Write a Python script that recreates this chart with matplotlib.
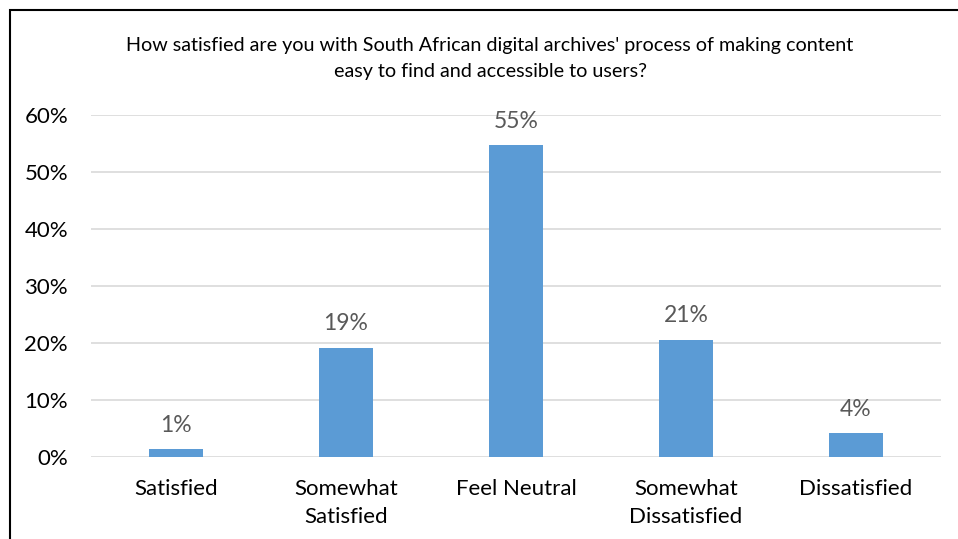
import matplotlib.pyplot as plt
from matplotlib.patches import Rectangle

categories = ['Satisfied', 'Somewhat\nSatisfied', 'Feel Neutral', 'Somewhat\nDissatisfied', 'Dissatisfied']
shares = [1.4, 19.2, 54.8, 20.6, 4.2]
y_ticks = [0, 10, 20, 30, 40, 50, 60]

TITLE = ("How satisfied are you with South African digital archives' process of making content\n"
         "easy to find and accessible to users?")

plt.rcParams['font.family'] = ['Lato', 'DejaVu Sans']

fig = plt.figure(figsize=(9.58, 5.39), dpi=100)
W, H = 958, 539
ax = fig.add_axes([91 / W, 1 - 457 / H, 850 / W, (457 - 115) / H])

x = list(range(len(categories)))
ax.bar(x, shares, width=0.32, color='#5B9BD5', zorder=3)
for xi, v in zip(x, shares):
    ax.text(xi, v + 2.3, '%d%%' % round(v), ha='center', va='bottom',
            fontsize=16.5, color='#595959')

ax.set_xlim(-0.5, len(categories) - 0.5)
ax.set_ylim(0, 60)
ax.set_yticks(y_ticks)
ax.set_yticklabels(['%d%%' % t for t in y_ticks], fontsize=16)
ax.set_xticks(x)
ax.set_xticklabels(categories, fontsize=16, linespacing=1.55)
ax.tick_params(length=0)
ax.tick_params(axis='y', pad=16.5)
ax.tick_params(axis='x', pad=15.5)
ax.grid(axis='y', color='#D9D9D9', linewidth=1.2, zorder=0)
for s in ax.spines.values():
    s.set_visible(False)

fig.text(490 / W, 1 - 58.5 / H, TITLE, ha='center', va='center', fontsize=14.2,
         linespacing=1.69)

# outer frame of the chart area
fig.patches.append(Rectangle((9.5 / W, -0.1), 1.2, 1 - 10.5 / H + 0.1,
                             transform=fig.transFigure, fill=False,
                             edgecolor='black', linewidth=1.5))

fig.savefig('out.png', dpi=100, facecolor='white')
